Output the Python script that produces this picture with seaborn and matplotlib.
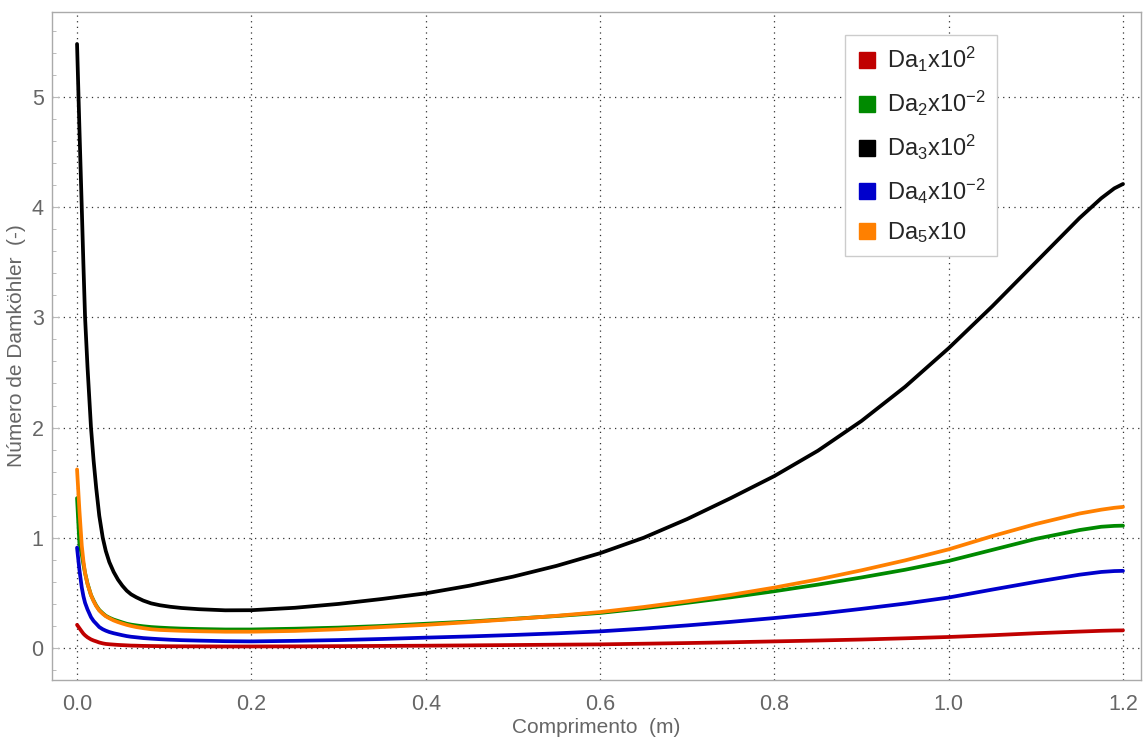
import matplotlib
matplotlib.use("Agg")
import matplotlib.pyplot as plt
import seaborn as sns
from matplotlib.lines import Line2D
from matplotlib.ticker import MultipleLocator

# comprimento (m)
x = [0, 0.0027, 0.0054, 0.0073, 0.0092, 0.012, 0.016, 0.019, 0.022, 0.0255,
     0.0295, 0.033, 0.037, 0.042, 0.047, 0.052, 0.057, 0.062, 0.068, 0.076,
     0.085, 0.095, 0.107, 0.12, 0.14, 0.17, 0.2,
     0.25, 0.3, 0.35, 0.4, 0.45, 0.5, 0.55, 0.6, 0.65, 0.7, 0.75, 0.8,
     0.85, 0.9, 0.95, 1.0, 1.05, 1.1, 1.15, 1.175, 1.19, 1.2]

da1 = [0.21, 0.18, 0.15, 0.13, 0.115, 0.097, 0.078, 0.068, 0.06, 0.05,
       0.042, 0.037, 0.034, 0.031, 0.028, 0.026, 0.024, 0.022, 0.021, 0.019,
       0.018, 0.017, 0.016, 0.0155, 0.015, 0.014, 0.014,
       0.015, 0.017, 0.019, 0.021, 0.024, 0.027, 0.03, 0.033, 0.039, 0.045,
       0.052, 0.06, 0.068, 0.077, 0.088, 0.10, 0.116, 0.134, 0.149, 0.156,
       0.159, 0.16]

da2 = [1.36, 0.95, 0.85, 0.76, 0.68, 0.585, 0.48, 0.43, 0.385, 0.345,
       0.315, 0.292, 0.275, 0.258, 0.245, 0.232, 0.22, 0.212, 0.205, 0.197,
       0.19, 0.185, 0.18, 0.176, 0.172, 0.168, 0.168,
       0.175, 0.185, 0.20, 0.22, 0.24, 0.265, 0.29, 0.318, 0.36, 0.41,
       0.46, 0.515, 0.575, 0.64, 0.71, 0.79, 0.89, 0.99, 1.07, 1.10,
       1.108, 1.11]

da3 = [5.48, 4.72, 4.0, 3.48, 3.0, 2.55, 2.0, 1.7, 1.45, 1.2,
       1.0, 0.88, 0.78, 0.69, 0.62, 0.565, 0.52, 0.487, 0.46, 0.43,
       0.405, 0.388, 0.374, 0.363, 0.352, 0.342, 0.343,
       0.365, 0.40, 0.445, 0.496, 0.565, 0.647, 0.745, 0.86, 1.0, 1.17,
       1.36, 1.56, 1.79, 2.06, 2.37, 2.72, 3.1, 3.5, 3.9, 4.08,
       4.17, 4.21]

da4 = [0.91, 0.71, 0.55, 0.47, 0.41, 0.35, 0.28, 0.245, 0.22, 0.19,
       0.17, 0.157, 0.145, 0.134, 0.125, 0.116, 0.108, 0.102, 0.097, 0.09,
       0.085, 0.08, 0.075, 0.071, 0.067, 0.062, 0.06,
       0.065, 0.072, 0.082, 0.094, 0.105, 0.118, 0.133, 0.151, 0.176, 0.205,
       0.237, 0.272, 0.31, 0.355, 0.403, 0.458, 0.53, 0.60, 0.665, 0.69,
       0.698, 0.70]

da5 = [1.62, 1.25, 0.93, 0.79, 0.68, 0.58, 0.48, 0.425, 0.38, 0.34,
       0.31, 0.288, 0.27, 0.25, 0.235, 0.222, 0.21, 0.2, 0.19, 0.18,
       0.17, 0.164, 0.16, 0.156, 0.152, 0.148, 0.148,
       0.155, 0.17, 0.19, 0.21, 0.235, 0.262, 0.292, 0.326, 0.372, 0.424,
       0.482, 0.548, 0.622, 0.705, 0.795, 0.895, 1.015, 1.125, 1.22, 1.255,
       1.272, 1.28]

labels = [r'Da$_1$x10$^2$', r'Da$_2$x10$^{-2}$', r'Da$_3$x10$^2$',
          r'Da$_4$x10$^{-2}$', r'Da$_5$x10']
colors = ['#C00000', '#008A00', '#000000', '#0000CC', '#FF8000']
series = [da1, da2, da3, da4, da5]

sns.set_style("white")
plt.rcParams['font.family'] = ['Liberation Sans', 'DejaVu Sans']
plt.rcParams['mathtext.fontset'] = 'custom'
plt.rcParams['mathtext.rm'] = 'Liberation Sans'
plt.rcParams['mathtext.it'] = 'Liberation Sans'

fig = plt.figure(figsize=(11.46, 7.42), dpi=100)
ax = fig.add_axes([0.0454, 0.0836, 0.9502, 0.9002])

# orange drawn last, on top of green
for ys, c in zip(series, colors):
    sns.lineplot(x=x, y=ys, color=c, linewidth=2.7, ax=ax, sort=False,
                 legend=False)

ax.set_xlim(-0.0287, 1.2206)
ax.set_ylim(-0.29, 5.77)
ax.set_xticks([0, 0.2, 0.4, 0.6, 0.8, 1.0, 1.2])
ax.set_xticklabels(['0.0', '0.2', '0.4', '0.6', '0.8', '1.0', '1.2'])
ax.yaxis.set_major_locator(MultipleLocator(1))
ax.yaxis.set_minor_locator(MultipleLocator(0.2))

ax.grid(True, which='major', color='#333333', linestyle=(0, (1, 3.5)),
        linewidth=0.9)
ax.tick_params(axis='x', which='both', length=0, labelsize=15.5,
               labelcolor='#666666', pad=10)
ax.tick_params(axis='y', which='major', direction='in', left=True, length=5,
               width=0.8, color='#BBBBBB', labelsize=15.5,
               labelcolor='#666666', pad=6)
ax.tick_params(axis='y', which='minor', direction='in', left=True, length=3,
               width=0.7, color='#BBBBBB')
for s in ax.spines.values():
    s.set_color('#AAAAAA')
    s.set_linewidth(1)

ax.set_xlabel('Comprimento  (m)', fontsize=15, color='#666666', labelpad=2)
ax.set_ylabel('Número de Damköhler  (-)', fontsize=15, color='#666666',
              family=['Liberation Sans Narrow', 'Liberation Sans'],
              labelpad=4)

handles = [Line2D([], [], marker='s', linestyle='', markersize=11.5,
                  markerfacecolor=c, markeredgecolor=c) for c in colors]
leg = ax.legend(handles, labels, loc='upper left',
                bbox_to_anchor=(0.728, 0.966), fontsize=17, frameon=True,
                fancybox=False, framealpha=1, edgecolor='#CCCCCC',
                handlelength=1.0, handletextpad=0.35, labelspacing=0.62,
                borderpad=0.45, borderaxespad=0)
leg.get_frame().set_linewidth(1)

fig.savefig('out.png', dpi=100)
